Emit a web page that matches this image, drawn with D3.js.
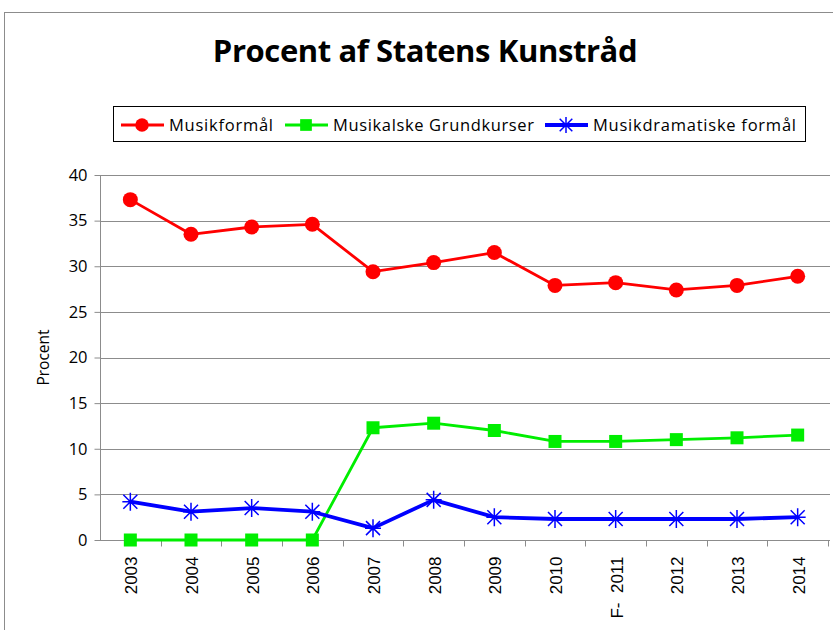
<!DOCTYPE html>
<html>
<head>
<meta charset="utf-8">
<script src="https://cdn.jsdelivr.net/npm/d3@7"></script>
<style>
  body { margin: 0; background: #fff; }
  svg text { fill: #000; }
</style>
</head>
<body>
<div id="chart"></div>
<script>
// data
var years = ['2003', '2004', '2005', '2006', '2007', '2008', '2009', '2010', 'F-  2011', '2012', '2013', '2014'];
var musikformaal = [37.3, 33.5, 34.3, 34.6, 29.4, 30.4, 31.5, 27.9, 28.2, 27.4, 27.9, 28.9];
var grundkurser = [0, 0, 0, 0, 12.3, 12.8, 12.0, 10.8, 10.8, 11.0, 11.2, 11.5];
var musikdramatiske = [4.2, 3.1, 3.5, 3.1, 1.3, 4.4, 2.5, 2.3, 2.3, 2.3, 2.3, 2.5];
var yTicks = [0, 5, 10, 15, 20, 25, 30, 35, 40];

var series = [
  {name: 'Musikformål', values: musikformaal, color: '#ff0000', marker: 'circle', width: 2.8},
  {name: 'Musikalske Grundkurser', values: grundkurser, color: '#00ee00', marker: 'square', width: 2.8},
  {name: 'Musikdramatiske formål', values: musikdramatiske, color: '#0000ff', marker: 'star', width: 3.8}
];

var W = 833, H = 630;
var margin = {top: 175, right: 3, bottom: 90, left: 100};
var width = W - margin.left - margin.right;
var height = H - margin.top - margin.bottom;

var svg = d3.select('#chart').append('svg')
  .attr('width', W)
  .attr('height', H);

// outer chart border
svg.append('rect')
  .attr('x', 4.5).attr('y', 12.5)
  .attr('width', W + 10).attr('height', H + 10)
  .attr('fill', 'none')
  .attr('stroke', '#8c8c8c')
  .attr('stroke-width', 1);

svg.append('text')
  .attr('x', 425).attr('y', 62)
  .attr('text-anchor', 'middle')
  .style('font-family', 'Open Sans, sans-serif')
  .style('font-weight', 'bold')
  .style('font-size', '31px')
  .style('letter-spacing', '-0.4px')
  .text('Procent af Statens Kunstråd');

var g = svg.append('g').attr('transform', 'translate(' + margin.left + ',' + margin.top + ')');

var x = d3.scaleBand().domain(years).range([0, width - 2]);
var y = d3.scaleLinear().domain([0, 40]).range([height, 0]);

// gridlines
g.append('g')
  .selectAll('line')
  .data(yTicks.filter(function(d) { return d > 0; }))
  .enter().append('line')
  .attr('x1', 0).attr('x2', width)
  .attr('y1', function(d) { return Math.round(y(d)) + 0.5; })
  .attr('y2', function(d) { return Math.round(y(d)) + 0.5; })
  .attr('stroke', '#8c8c8c')
  .attr('stroke-width', 1);

// y axis
var yAxis = g.append('g')
  .attr('transform', 'translate(0.5,0)')
  .call(d3.axisLeft(y).tickValues(yTicks).tickSize(6).tickPadding(7));
yAxis.selectAll('text')
  .style('font-family', 'Open Sans, sans-serif')
  .style('font-size', '16.5px');
yAxis.selectAll('line, path').attr('stroke', '#8c8c8c');
yAxis.select('path').attr('d', 'M0,' + height + 'V0');

// x axis, ticks at category boundaries
var xAxis = g.append('g')
  .attr('transform', 'translate(0,' + (Math.round(height) + 0.5) + ')');
xAxis.append('line')
  .attr('x1', -5).attr('x2', width)
  .attr('stroke', '#8c8c8c');
xAxis.selectAll('.tk')
  .data(years.slice(1).concat(['end']))
  .enter().append('line')
  .attr('class', 'tk')
  .attr('x1', function(d, i) { return Math.round(x.step() * (i + 1)) + 0.5; })
  .attr('x2', function(d, i) { return Math.round(x.step() * (i + 1)) + 0.5; })
  .attr('y1', 0).attr('y2', 6)
  .attr('stroke', '#8c8c8c');
xAxis.selectAll('.lbl')
  .data(years)
  .enter().append('text')
  .attr('class', 'lbl')
  .attr('transform', function(d) {
    return 'translate(' + (x(d) + x.bandwidth() / 2 + 7) + ',16) rotate(-90)';
  })
  .attr('text-anchor', 'end')
  .attr('xml:space', 'preserve')
  .style('white-space', 'pre')
  .style('font-family', 'Liberation Sans, Arial, sans-serif')
  .style('font-size', '17px')
  .text(function(d) { return d; });

svg.append('text')
  .attr('transform', 'translate(49,' + (margin.top + height / 2) + ') rotate(-90)')
  .attr('text-anchor', 'middle')
  .style('font-family', 'Open Sans, sans-serif')
  .style('font-size', '15.5px')
  .text('Procent');

function cx(i) { return x(years[i]) + x.bandwidth() / 2; }

var line = d3.line()
  .x(function(d, i) { return cx(i); })
  .y(function(d) { return y(d); });

function drawMarker(sel, type, color, size) {
  var k = size || 1;
  if (type === 'circle') {
    sel.append('circle').attr('r', 7.5 * k).attr('fill', color);
  } else if (type === 'square') {
    sel.append('rect').attr('x', -6.5 * k).attr('y', -6.5 * k).attr('width', 13 * k).attr('height', 13 * k).attr('fill', color);
  } else {
    sel.append('path')
      .attr('d', 'M-8,0H8M0,-9V9M-7,-7L7,7M-7,7L7,-7')
      .attr('transform', 'scale(' + k + ')')
      .attr('stroke', color)
      .attr('stroke-width', 1.5 / k)
      .attr('fill', 'none');
  }
}

series.forEach(function(s) {
  g.append('path')
    .datum(s.values)
    .attr('fill', 'none')
    .attr('stroke', s.color)
    .attr('stroke-width', s.width)
    .attr('stroke-linejoin', 'round')
    .attr('d', line);
});
series.forEach(function(s) {
  s.values.forEach(function(v, i) {
    var m = g.append('g').attr('transform', 'translate(' + cx(i) + ',' + y(v) + ')');
    drawMarker(m, s.marker, s.color);
  });
});

// legend
var legend = svg.append('g');
legend.append('rect')
  .attr('x', 113.5).attr('y', 106.5)
  .attr('width', 692).attr('height', 35)
  .attr('fill', '#fff')
  .attr('stroke', '#000')
  .attr('stroke-width', 1);
var legendX = [142, 306, 566];
var legendW = [104, 201, 203];
series.forEach(function(s, i) {
  var lg = legend.append('g').attr('transform', 'translate(' + legendX[i] + ',125)');
  lg.append('line').attr('x1', -21).attr('x2', 22).attr('stroke', s.color).attr('stroke-width', s.width);
  var m = lg.append('g');
  drawMarker(m, s.marker, s.color, 0.9);
  lg.append('text')
    .attr('x', 27).attr('y', 6)
    .attr('textLength', legendW[i])
    .attr('lengthAdjust', 'spacing')
    .style('font-family', 'Open Sans, sans-serif')
    .style('font-size', '16.5px')
    .text(s.name);
});
</script>
</body>
</html>
